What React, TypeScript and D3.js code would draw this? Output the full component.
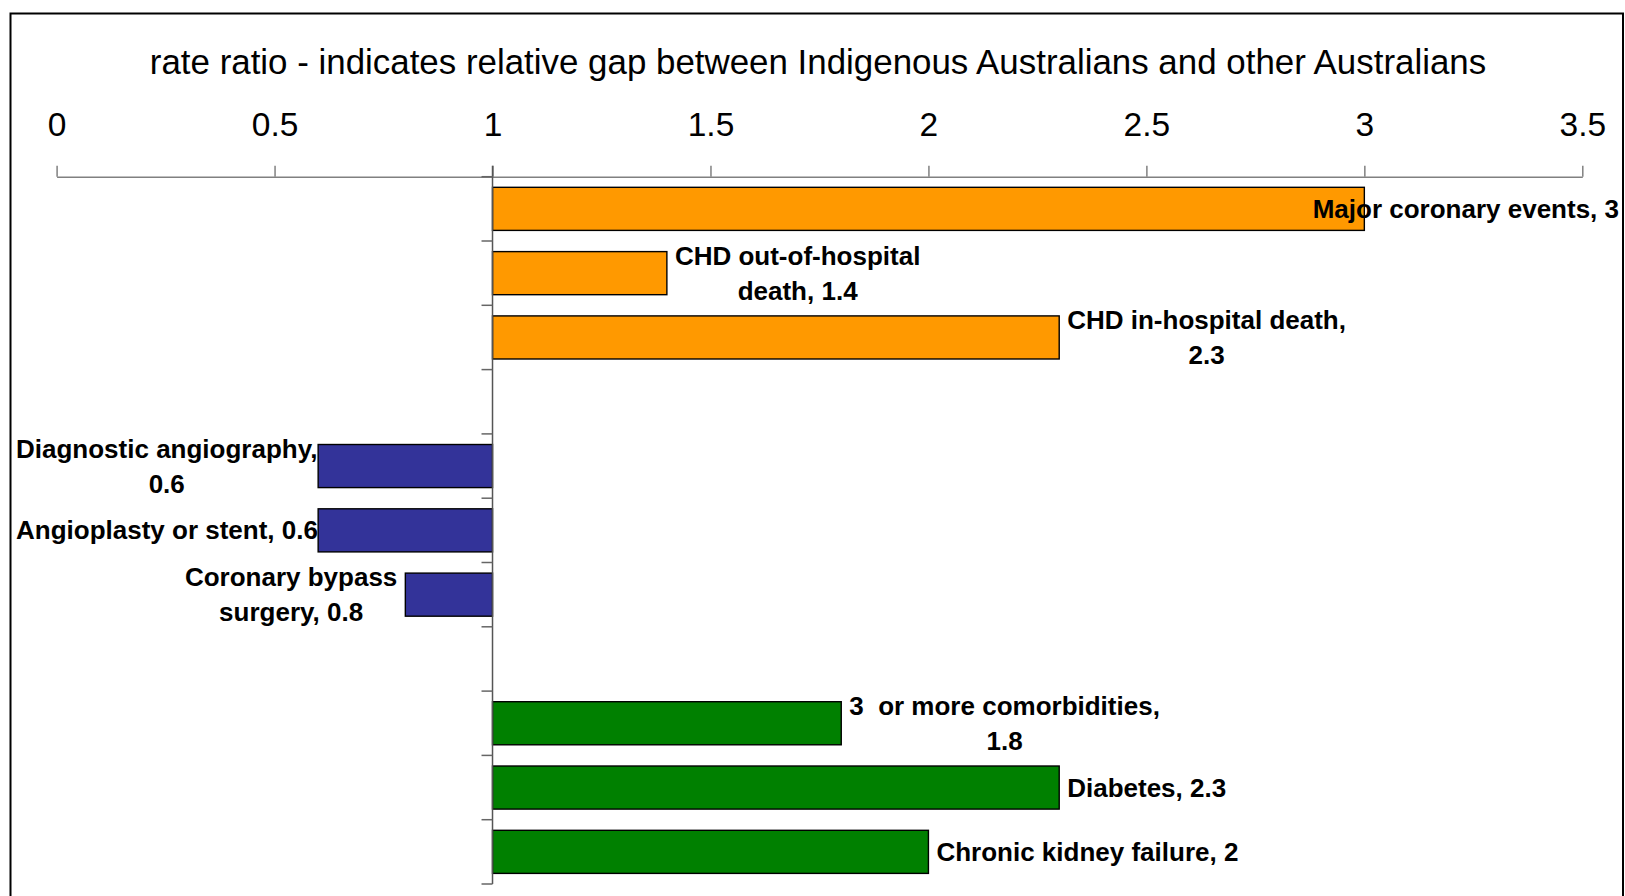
import React, { useEffect, useRef } from 'react';
import * as d3 from 'd3';

const title = 'rate ratio - indicates relative gap between Indigenous Australians and other Australians';

// categories top to bottom; empty strings are the spacer rows between groups
const categories = [
  'Major coronary events',
  'CHD out-of-hospital death',
  'CHD in-hospital death',
  '',
  'Diagnostic angiography',
  'Angioplasty or stent',
  'Coronary bypass surgery',
  '',
  '3  or more comorbidities',
  'Diabetes',
  'Chronic kidney failure',
];
const values: (number | null)[] = [3, 1.4, 2.3, null, 0.6, 0.6, 0.8, null, 1.8, 2.3, 2];
const groups = ['events', 'events', 'events', '', 'procedures', 'procedures', 'procedures', '', 'risk', 'risk', 'risk'];
const groupColors: Record<string, string> = {
  events: '#FF9900',
  procedures: '#333399',
  risk: '#008000',
};
const xTicks = [0, 0.5, 1, 1.5, 2, 2.5, 3, 3.5];

const W = 1625;
const H = 896;

export default function App() {
  const svgRef = useRef<SVGSVGElement>(null);

  useEffect(() => {
    if (!svgRef.current) return;
    document.body.style.margin = '0';
    document.body.style.overflow = 'hidden';

    const svg = d3.select(svgRef.current);
    svg.selectAll('*').remove();

    const font = '"Liberation Sans", Arial, sans-serif';

    svg.append('rect').attr('width', W).attr('height', H).attr('fill', '#fff');

    // chart frame (bottom edge runs off the page)
    svg.append('rect')
      .attr('x', 10.5).attr('y', 13.5)
      .attr('width', 1612.5).attr('height', 920)
      .attr('fill', 'none')
      .attr('stroke', '#000')
      .attr('stroke-width', 2);

    const x = d3.scaleLinear().domain([0, 3.5]).range([56.6, 1582.3]);
    const y = d3.scaleBand<number>()
      .domain(categories.map((_, i) => i))
      .range([176.7, 884])
      .paddingInner(0.33)
      .paddingOuter(0.165);

    // title
    svg.append('text')
      .attr('x', 818)
      .attr('y', 73.5)
      .attr('text-anchor', 'middle')
      .attr('font-family', font)
      .attr('font-size', 34.9)
      .attr('fill', '#000')
      .text(title);

    // value axis on top
    const xAxis = svg.append('g')
      .attr('transform', `translate(0,${176.7})`)
      .call(d3.axisTop(x).tickValues(xTicks).tickSize(11).tickSizeOuter(0).tickPadding(29.7).tickFormat(d => String(d)));
    xAxis.select('.domain').attr('stroke', '#808080').attr('stroke-width', 1.5);
    xAxis.selectAll('.tick line').attr('stroke', '#808080').attr('stroke-width', 1.5);
    xAxis.selectAll('.tick text')
      .attr('font-family', font)
      .attr('font-size', 33.5)
      .attr('fill', '#000');

    // bars
    categories.forEach((name, i) => {
      const v = values[i];
      if (v == null) return;
      svg.append('rect')
        .attr('x', x(Math.min(1, v)))
        .attr('y', y(i)!)
        .attr('width', Math.abs(x(v) - x(1)))
        .attr('height', y.bandwidth())
        .attr('fill', groupColors[groups[i]])
        .attr('stroke', '#000')
        .attr('stroke-width', 1.4);
    });

    // category axis at x = 1
    const step = y.step();
    const r0 = y.range()[0];
    const yAxis = svg.append('g');
    yAxis.append('line')
      .attr('x1', x(1)).attr('x2', x(1))
      .attr('y1', r0 - 11).attr('y2', r0 + step * categories.length)
      .attr('stroke', '#555').attr('stroke-width', 1.5);
    d3.range(categories.length + 1).forEach(k => {
      yAxis.append('line')
        .attr('x1', x(1) - 11).attr('x2', x(1))
        .attr('y1', r0 + step * k).attr('y2', r0 + step * k)
        .attr('stroke', '#666').attr('stroke-width', 1.5);
    });

    // data labels, wrapped like the spreadsheet does
    const maxLine = 316;
    const lineH = 35;
    categories.forEach((name, i) => {
      const v = values[i];
      if (v == null) return;
      const label = `${name}, ${v}`;
      const g = svg.append('g');
      const measure = g.append('text')
        .attr('font-family', font).attr('font-size', 26).attr('font-weight', 'bold')
        .style('white-space', 'pre');
      const widthOf = (s: string) => {
        measure.text(s);
        return (measure.node() as SVGTextElement).getComputedTextLength();
      };
      const words = label.split(' ');
      const lines: string[] = [];
      let cur = '';
      words.forEach((w, j) => {
        const next = j === 0 ? w : cur + ' ' + w;
        if (cur !== '' && w !== '' && widthOf(next) > maxLine) {
          lines.push(cur);
          cur = w;
        } else {
          cur = next;
        }
      });
      lines.push(cur);
      const bw = d3.max(lines, l => widthOf(l)) || 0;
      measure.remove();

      let left = v >= 1 ? x(v) + 8 : x(v) - 8 - bw;
      left = Math.max(16, Math.min(1619 - bw, left));
      const cy = y(i)! + y.bandwidth() / 2;
      lines.forEach((l, k) => {
        g.append('text')
          .attr('x', left + bw / 2)
          .attr('y', cy + 9 + (k - (lines.length - 1) / 2) * lineH)
          .attr('text-anchor', 'middle')
          .attr('font-family', font)
          .attr('font-size', 26)
          .attr('font-weight', 'bold')
          .attr('fill', '#000')
          .style('white-space', 'pre')
          .text(l);
      });
    });
  }, []);

  return (
    <svg ref={svgRef} width={W} height={H} style={{ position: 'absolute', left: 0, top: 0, display: 'block' }} />
  );
}
